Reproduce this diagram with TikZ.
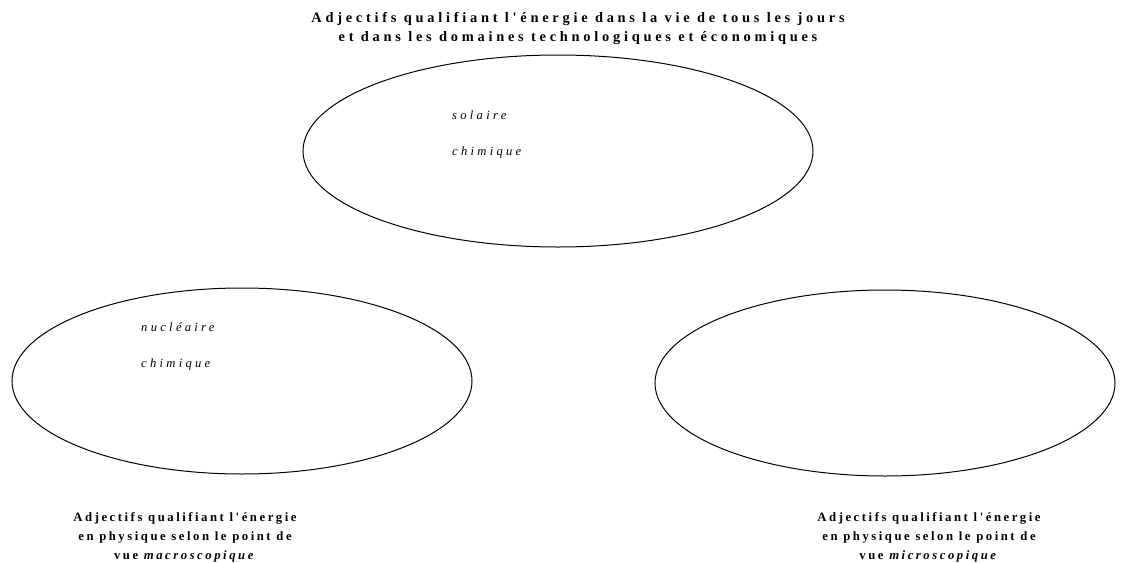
\documentclass[tikz,border=0pt]{standalone}
\usepackage{fontspec}
\setmainfont{Liberation Serif}
\newfontfamily\spacedbold[LetterSpace=26]{Liberation Serif}
\newfontfamily\spacedboldb[LetterSpace=20]{Liberation Serif}
\newfontfamily\spacedit[LetterSpace=26]{Liberation Serif}
\begin{document}
\begin{tikzpicture}[x=1pt,y=-1pt,
  oval/.style={draw,line width=1pt},
  heading/.style={align=center,font=\fontsize{12.7}{19}\spacedboldb\bfseries,inner sep=0pt},
  bigheading/.style={align=center,font=\fontsize{14.4}{19}\spacedbold\bfseries,inner sep=0pt},
  word/.style={anchor=west,font=\fontsize{12.6}{14}\spacedit\itshape,inner sep=0pt}]
\useasboundingbox (0,0) rectangle (1129,562);
\draw[oval] (558,151) ellipse [x radius=255, y radius=96];
\draw[oval] (242,381) ellipse [x radius=230, y radius=93];
\draw[oval] (885,383) ellipse [x radius=230, y radius=93];
\node[bigheading] (t1) at (578,29) {Adjectifs qualifiant l'énergie dans la vie de tous les jours\\et dans les domaines technologiques et économiques};
\node[word] (w1) at (452,115) {solaire};
\node[word] (w2) at (452,152) {chimique};
\node[word] (w3) at (141,327) {nucléaire};
\node[word] (w4) at (141,364) {chimique};
\node[heading] (t2) at (185,537) {Adjectifs qualifiant l'énergie\\en physique selon le point de\\vue \textit{macroscopique}};
\node[heading] (t3) at (929,537) {Adjectifs qualifiant l'énergie\\en physique selon le point de\\vue \textit{microscopique}};
\end{tikzpicture}
\end{document}
